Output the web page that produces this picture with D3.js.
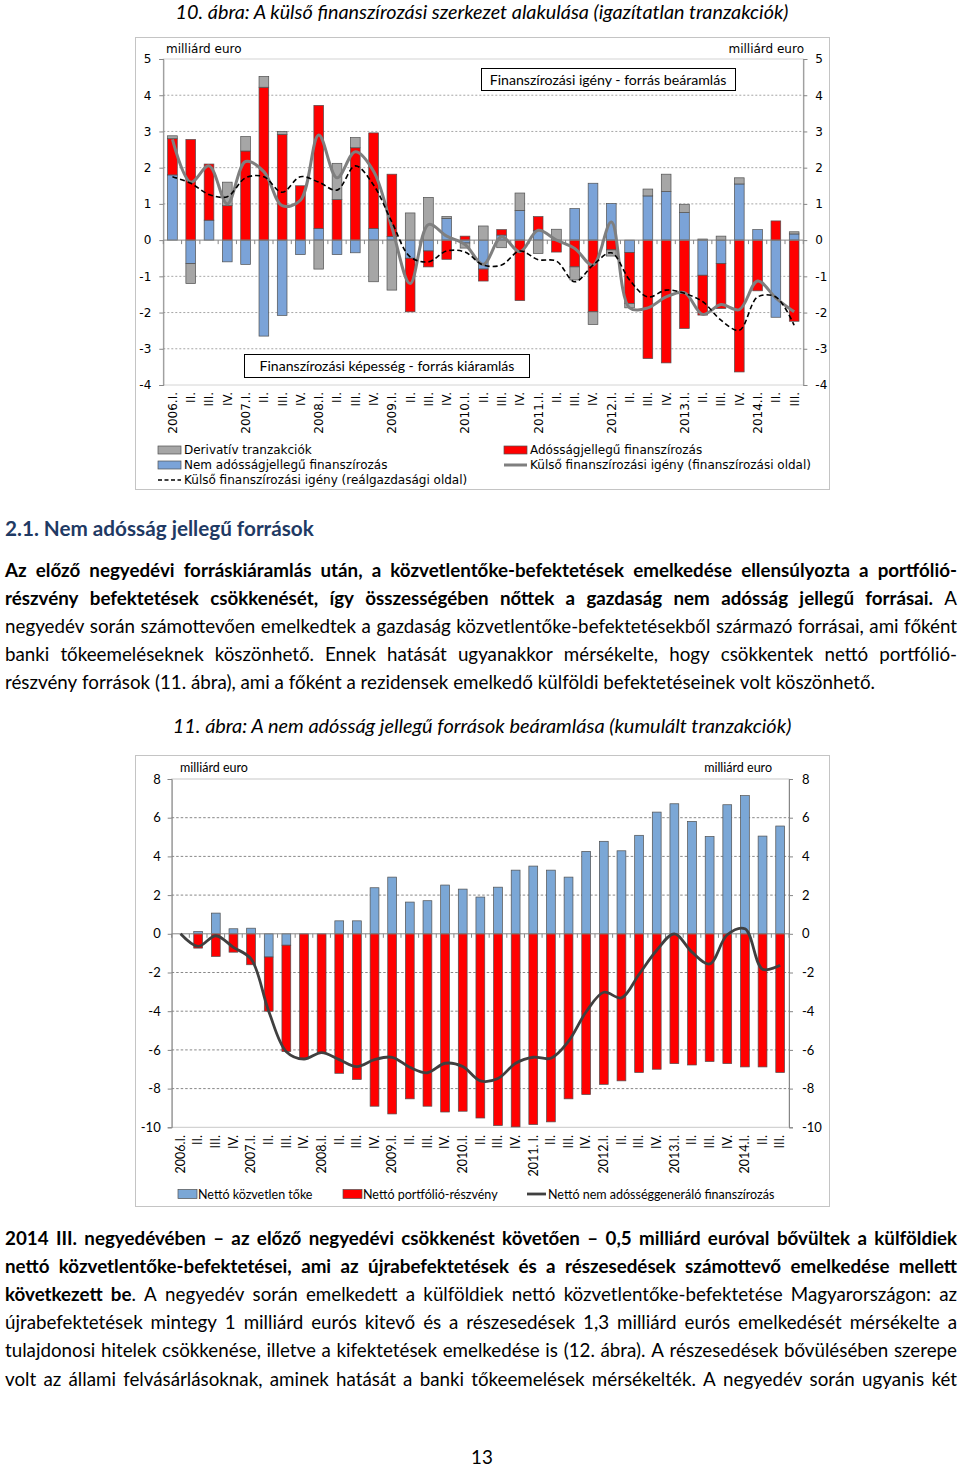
<!DOCTYPE html>
<html><head><meta charset="utf-8">
<script src="https://cdn.jsdelivr.net/npm/d3@7"></script>
<style>body{margin:0;background:#fff}svg{display:block}</style>
</head><body>
<svg id="page" width="960" height="1468"></svg>
<script>
// ---------- DATA ----------
const labels1 = ["2006.I.","II.","III.","IV.","2007.I.","II.","III.","IV.","2008.I.","II.","III.","IV.","2009.I.","II.","III.","IV.","2010.I.","II.","III.","IV.","2011.I.","II.","III.","IV.","2012.I.","II.","III.","IV.","2013.I.","II.","III.","IV.","2014.I.","II.","III."];
const labels2 = ["2006.I.","II.","III.","IV.","2007.I.","II.","III.","IV.","2008.I.","II.","III.","IV.","2009.I.","II.","III.","IV.","2010.I.","II.","III.","IV.","2011. I.","II.","III.","IV.","2012.I.","II.","III.","IV.","2013.I.","II.","III.","IV.","2014.I.","II.","III."];

// Chart 10 (milliárd euro)
const nonDebt = [1.8,-0.65,0.55,-0.6,-0.67,-2.65,-2.08,-0.4,0.32,-0.4,-0.35,0.32,0.1,-0.5,-0.3,0.6,-0.08,-0.8,0.14,0.82,0.27,0,0.87,1.57,1.01,-0.34,1.22,1.34,0.76,-0.97,-0.65,1.55,0.29,-2.13,0.17];
const debt = [1.0,2.78,1.55,0.95,2.46,4.22,2.92,1.5,3.4,1.12,2.55,2.64,1.72,-1.48,-0.44,-0.53,0.11,-0.33,0.15,-1.67,0.38,-0.33,-0.74,-1.98,-0.27,-1.41,-3.27,-3.39,-2.44,-1.1,-1.24,-3.64,-1.4,0.53,-2.24];
const deriv = [0.08,-0.55,0,0.65,0.4,0.3,0.08,0,-0.8,1.0,0.28,-1.15,-1.38,0.75,1.18,0.05,-0.14,0.39,-0.21,0.48,-0.37,0.3,-0.36,-0.35,-0.17,-0.12,0.19,0.48,0.23,0.03,0.11,0.17,0,0,0.06];
const needFin = [2.78,1.6,2.05,1.0,2.17,1.89,0.95,1.1,2.9,1.72,2.44,1.9,0.35,-1.2,0.43,0.11,-0.12,-0.67,0.09,-0.32,0.27,0.0,-0.23,-0.69,0.5,-1.87,-1.87,-1.57,-1.45,-2.05,-1.78,-1.92,-1.13,-1.6,-1.98];
const needReal = [1.75,1.57,1.26,1.2,1.72,1.75,1.32,1.75,1.6,1.38,2.05,1.52,0.5,-0.46,-0.6,-0.3,-0.33,-0.69,-0.69,-0.3,-0.54,-0.58,-1.15,-0.69,-0.35,-1.1,-1.57,-1.38,-1.47,-1.7,-2.21,-2.49,-1.57,-1.57,-2.35];
const ticks1 = [-4,-3,-2,-1,0,1,2,3,4,5];

// Chart 11 (kumulált, milliárd euro)
const fdi = [0,0.12,1.07,0.26,0.29,-1.2,-0.59,0,0,0.67,0.67,2.38,2.93,1.64,1.71,2.52,2.31,1.9,2.41,3.29,3.5,3.29,2.93,4.26,4.78,4.29,5.09,6.29,6.72,5.81,5.03,6.67,7.14,5.05,5.57];
const portfolio = [0,-0.74,-1.17,-0.95,-1.6,-2.8,-5.5,-6.47,-6.14,-7.21,-7.53,-8.91,-9.31,-8.53,-8.91,-9.21,-9.17,-9.52,-9.91,-9.98,-9.86,-9.72,-8.53,-8.31,-7.78,-7.6,-7.17,-7.0,-6.71,-6.78,-6.6,-6.71,-6.88,-6.88,-7.17];
const nonDebtTotal = [0,-0.65,-0.1,-0.7,-1.3,-4.0,-6.09,-6.47,-6.14,-6.5,-6.86,-6.5,-6.38,-6.9,-7.18,-6.69,-6.86,-7.6,-7.48,-6.69,-6.38,-6.43,-5.55,-4.03,-3.02,-3.31,-2.09,-0.85,0,-0.95,-1.56,-0.05,0.26,-1.83,-1.62];
const ticks2 = [-10,-8,-6,-4,-2,0,2,4,6,8];

const para1 = [
 "**Az előző negyedévi forráskiáramlás után, a közvetlentőke-befektetések emelkedése ellensúlyozta a portfólió-",
 "részvény befektetések csökkenését, így összességében nőttek a gazdaság nem adósság jellegű forrásai.** A",
 "negyedév során számottevően emelkedtek a gazdaság közvetlentőke-befektetésekből származó forrásai, ami főként",
 "banki tőkeemeléseknek köszönhető. Ennek hatását ugyanakkor mérsékelte, hogy csökkentek nettó portfólió-",
 "részvény források (11. ábra), ami a főként a rezidensek emelkedő külföldi befektetéseinek volt köszönhető."
];
const para2 = [
 "**2014 III. negyedévében – az előző negyedévi csökkenést követően – 0,5 milliárd euróval bővültek a külföldiek",
 "nettó közvetlentőke-befektetései, ami az újrabefektetések és a részesedések számottevő emelkedése mellett",
 "következett be**. A negyedév során emelkedett a külföldiek nettó közvetlentőke-befektetése Magyarországon: az",
 "újrabefektetések mintegy 1 milliárd eurós kitevő és a részesedések 1,3 milliárd eurós emelkedését mérsékelte a",
 "tulajdonosi hitelek csökkenése, illetve a kifektetések emelkedése is (12. ábra). A részesedések bővülésében szerepe",
 "volt az állami felvásárlásoknak, aminek hatását a banki tőkeemelések mérsékelték. A negyedév során ugyanis két"
];

// ---------- HELPERS ----------
const svg = d3.select('#page');
const F = "Lato, 'Open Sans', sans-serif";
const FV = "'DejaVu Sans', Verdana, sans-serif";
function fit(sel, w){
  const fs = parseFloat(sel.attr('font-size'));
  const cw = sel.node().getComputedTextLength();
  sel.attr('font-size', fs*w/cw);
  return sel;
}
function txt(g, x, y, s, fs, fam, anchor){
  return g.append('text').attr('x',x).attr('y',y).attr('font-size',fs)
    .attr('font-family',fam).attr('text-anchor',anchor||'start').attr('fill','#000').text(s);
}
function measure(str, fs, bold){
  const t = svg.append('text').attr('font-size',fs).attr('font-family',F).attr('font-weight',bold?'bold':'normal').text(str);
  const w = t.node().getComputedTextLength(); t.remove(); return w;
}
function paragraph(lines, x0, x1, y0, lh, fs, justifyLast){
  const state = {b:false};
  const spaceW = measure('a a',fs,false) - measure('aa',fs,false);
  lines.forEach((line, li) => {
    const y = y0 + li*lh;
    const words = line.split(' ').filter(s=>s.length).map(w => {
      const parts = w.split('**'); const spans = [];
      parts.forEach((p,i)=>{ if(i>0) state.b = !state.b; if(p) spans.push({t:p,b:state.b}); });
      return spans;
    });
    const els = words.map(spans => {
      const t = svg.append('text').attr('y',y).attr('font-size',fs).attr('font-family',F).attr('fill','#000');
      spans.forEach(s => t.append('tspan').attr('font-weight', s.b?'bold':'normal').text(s.t));
      return t;
    });
    const widths = els.map(e => e.node().getComputedTextLength());
    const total = d3.sum(widths);
    const last = (li === lines.length-1) && !justifyLast;
    const gap = last ? spaceW : (x1 - x0 - total)/(words.length-1);
    let x = x0;
    els.forEach((e,i)=>{ e.attr('x',x); x += widths[i] + gap; });
  });
}

// ---------- TEXT ----------
fit(txt(svg, 482, 18.5, "10. ábra: A külső finanszírozási szerkezet alakulása (igazítatlan tranzakciók)", 18, F, 'middle').attr('font-style','italic'), 613);
fit(txt(svg, 5, 536, "2.1. Nem adósság jellegű források", 20, F).attr('font-weight','bold').attr('fill','#1F3A64'), 309);
// paragraph font size derived from the unjustified last line of para 1
const pfs = 17 * 870 / measure(para1[4], 17, false);
paragraph(para1, 5, 957, 577, 28.1, pfs, false);
fit(txt(svg, 482, 733, "11. ábra: A nem adósság jellegű források beáramlása (kumulált tranzakciók)", 18, F, 'middle').attr('font-style','italic'), 619);
paragraph(para2, 5, 957, 1245, 28.1, pfs, true);
txt(svg, 482, 1464, "13", pfs, F, 'middle');

// ---------- CHART 10 ----------
(function(){
  const g = svg.append('g');
  const L=163.3, R=803.3, T=59, B=385;
  g.append('rect').attr('x',135.5).attr('y',37.5).attr('width',694).attr('height',452).attr('fill','#fff').attr('stroke','#c4c4c4');
  const x = d3.scaleBand().domain(d3.range(35)).range([L,R]).paddingInner(0.47).paddingOuter(0.235);
  const y = d3.scaleLinear().domain([-4,5]).range([B,T]);
  g.append('rect').attr('x',L).attr('y',T).attr('width',R-L).attr('height',B-T).attr('fill','none').attr('stroke','#d4d4d4');
  ticks1.filter(v => v!==0 && v!==5 && v!==-4).forEach(v => {
    g.append('line').attr('x1',L).attr('x2',R).attr('y1',y(v)).attr('y2',y(v))
      .attr('stroke','#a6a6a6').attr('stroke-dasharray','2,2').attr('stroke-width',1);
  });
  const axL = g.append('g').attr('transform',`translate(${L},0)`)
    .call(d3.axisLeft(y).tickValues(ticks1).tickSize(4).tickPadding(8).tickFormat(d=>String(d)));
  const axR = g.append('g').attr('transform',`translate(${R},0)`)
    .call(d3.axisRight(y).tickValues(ticks1).tickSize(4).tickPadding(8).tickFormat(d=>String(d)));
  [axL,axR].forEach(a => {
    a.select('.domain').attr('stroke','#868686');
    a.selectAll('line').attr('stroke','#868686');
    a.selectAll('text').attr('font-family',FV).attr('font-size',12).attr('fill','#000');
  });
  // bars
  const rows = d3.range(35).map(i => ({i, nd: nonDebt[i], d: debt[i], dv: deriv[i]}));
  const series = d3.stack().keys(['nd','d','dv']).offset(d3.stackOffsetDiverging)(rows);
  const col = {nd:'#7BA3D8', d:'#FF0000', dv:'#A6A6A6'};
  series.forEach(s => {
    g.append('g').selectAll('rect').data(s).join('rect')
      .attr('x', d => x(d.data.i)).attr('width', x.bandwidth())
      .attr('y', d => y(Math.max(d[0],d[1]))).attr('height', d => Math.abs(y(d[0])-y(d[1])))
      .attr('fill', col[s.key]).attr('stroke','#505050').attr('stroke-width',0.7);
  });
  // zero line with category ticks
  g.append('line').attr('x1',L).attr('x2',R).attr('y1',y(0)).attr('y2',y(0)).attr('stroke','#868686');
  d3.range(36).forEach(k => {
    const xx = L + k*x.step();
    g.append('line').attr('x1',xx).attr('x2',xx).attr('y1',y(0)).attr('y2',y(0)+4).attr('stroke','#868686');
  });
  const cx = i => x(i) + x.bandwidth()/2;
  g.append('path').datum(needFin).attr('fill','none').attr('stroke','#7F7F7F').attr('stroke-width',3)
    .attr('stroke-linejoin','round')
    .attr('d', d3.line().x((d,i)=>cx(i)).y(d=>y(d)).curve(d3.curveCatmullRom.alpha(0.5)));
  g.append('path').datum(needReal).attr('fill','none').attr('stroke','#000').attr('stroke-width',1.6)
    .attr('stroke-dasharray','5,3')
    .attr('d', d3.line().x((d,i)=>cx(i)).y(d=>y(d)).curve(d3.curveCatmullRom.alpha(0.5)));
  // axis labels
  txt(g, 166, 53, "milliárd euro", 12, FV);
  txt(g, 804, 53, "milliárd euro", 12, FV, 'end');
  labels1.forEach((s,i) => {
    g.append('text').attr('transform',`translate(${cx(i)+4.4},392) rotate(-90)`)
      .attr('text-anchor','end').attr('font-family',FV).attr('font-size',12).attr('fill','#000').text(s);
  });
  // annotation boxes
  g.append('rect').attr('x',481.5).attr('y',68.5).attr('width',254).attr('height',22).attr('fill','#fff').attr('stroke','#000');
  fit(txt(g, 608, 84.5, "Finanszírozási igény - forrás beáramlás", 14, F, 'middle'), 237);
  g.append('rect').attr('x',244.5).attr('y',354.5).attr('width',285).attr('height',23).attr('fill','#fff').attr('stroke','#000');
  fit(txt(g, 387, 371, "Finanszírozási képesség - forrás kiáramlás", 14, F, 'middle'), 255);
  // legend
  g.append('rect').attr('x',158).attr('y',446).attr('width',23).attr('height',8).attr('fill','#A6A6A6').attr('stroke','#505050').attr('stroke-width',0.7);
  txt(g, 184, 454, "Derivatív tranzakciók", 12, FV);
  g.append('rect').attr('x',158).attr('y',461).attr('width',23).attr('height',8).attr('fill','#7BA3D8').attr('stroke','#505050').attr('stroke-width',0.7);
  txt(g, 184, 469, "Nem adósságjellegű finanszírozás", 12, FV);
  g.append('line').attr('x1',158).attr('x2',181).attr('y1',480).attr('y2',480).attr('stroke','#000').attr('stroke-width',1.6).attr('stroke-dasharray','4,2.5');
  txt(g, 184, 484, "Külső finanszírozási igény (reálgazdasági oldal)", 12, FV);
  g.append('rect').attr('x',504).attr('y',446).attr('width',23).attr('height',8).attr('fill','#FF0000').attr('stroke','#505050').attr('stroke-width',0.7);
  txt(g, 530, 454, "Adósságjellegű finanszírozás", 12, FV);
  g.append('line').attr('x1',504).attr('x2',527).attr('y1',465).attr('y2',465).attr('stroke','#7F7F7F').attr('stroke-width',3);
  txt(g, 530, 469, "Külső finanszírozási igény (finanszírozási oldal)", 12, FV);
})();

// ---------- CHART 11 ----------
(function(){
  const g = svg.append('g');
  const L=171.7, R=789, T=779, B=1127.3;
  g.append('rect').attr('x',135.5).attr('y',755.5).attr('width',694).attr('height',451).attr('fill','#fff').attr('stroke','#c4c4c4');
  const x = d3.scaleBand().domain(d3.range(35)).range([L,R]).paddingInner(0.5).paddingOuter(0.25);
  const y = d3.scaleLinear().domain([-10,8]).range([B,T]);
  g.append('rect').attr('x',L).attr('y',T).attr('width',R-L).attr('height',B-T).attr('fill','none').attr('stroke','#c8c8c8');
  ticks2.filter(v => v!==0 && v!==8 && v!==-10).forEach(v => {
    g.append('line').attr('x1',L).attr('x2',R).attr('y1',y(v)).attr('y2',y(v))
      .attr('stroke','#7a7a7a').attr('stroke-dasharray','2.5,2').attr('stroke-width',0.9);
  });
  const axL = g.append('g').attr('transform',`translate(${L},0)`)
    .call(d3.axisLeft(y).tickValues(ticks2).tickSize(4).tickPadding(7).tickFormat(d=>String(d)));
  const axR = g.append('g').attr('transform',`translate(${R},0)`)
    .call(d3.axisRight(y).tickValues(ticks2).tickSize(4).tickPadding(9).tickFormat(d=>String(d)));
  [axL,axR].forEach(a => {
    a.select('.domain').attr('stroke','#868686');
    a.selectAll('line').attr('stroke','#868686');
    a.selectAll('text').attr('font-family',F).attr('font-size',13).attr('fill','#000');
  });
  const rows = d3.range(35).map(i => ({i, f: fdi[i], p: portfolio[i]}));
  const series = d3.stack().keys(['f','p']).offset(d3.stackOffsetDiverging)(rows);
  const col = {f:'#7BA7D6', p:'#FF0000'};
  series.forEach(s => {
    g.append('g').selectAll('rect').data(s.filter(d => d[1]!==d[0])).join('rect')
      .attr('x', d => x(d.data.i)).attr('width', x.bandwidth())
      .attr('y', d => y(Math.max(d[0],d[1]))).attr('height', d => Math.abs(y(d[0])-y(d[1])))
      .attr('fill', col[s.key]).attr('stroke','#505050').attr('stroke-width',0.7);
  });
  g.append('line').attr('x1',L).attr('x2',R).attr('y1',y(0)).attr('y2',y(0)).attr('stroke','#868686');
  d3.range(36).forEach(k => {
    const xx = L + k*x.step();
    g.append('line').attr('x1',xx).attr('x2',xx).attr('y1',y(0)).attr('y2',y(0)+4).attr('stroke','#868686');
  });
  const cx = i => x(i) + x.bandwidth()/2;
  g.append('path').datum(nonDebtTotal).attr('fill','none').attr('stroke','#404040').attr('stroke-width',2.8)
    .attr('stroke-linejoin','round')
    .attr('d', d3.line().x((d,i)=>cx(i)).y(d=>y(d)).curve(d3.curveCatmullRom.alpha(0.5)));
  txt(g, 180, 772, "milliárd euro", 12.5, F);
  txt(g, 772, 772, "milliárd euro", 12.5, F, 'end');
  labels2.forEach((s,i) => {
    g.append('text').attr('transform',`translate(${cx(i)+4.3},1135) rotate(-90)`)
      .attr('text-anchor','end').attr('font-family',F).attr('font-size',12.5).attr('fill','#000').text(s);
  });
  g.append('rect').attr('x',178).attr('y',1189.5).attr('width',19).attr('height',9).attr('fill','#7BA7D6').attr('stroke','#505050').attr('stroke-width',0.7);
  txt(g, 198, 1199, "Nettó közvetlen tőke", 12.5, F);
  g.append('rect').attr('x',343).attr('y',1189.5).attr('width',19).attr('height',9).attr('fill','#FF0000').attr('stroke','#505050').attr('stroke-width',0.7);
  txt(g, 363, 1199, "Nettó portfólió-részvény", 12.5, F);
  g.append('line').attr('x1',527).attr('x2',546).attr('y1',1194).attr('y2',1194).attr('stroke','#404040').attr('stroke-width',2.8);
  txt(g, 548, 1199, "Nettó nem adósséggeneráló finanszírozás", 12.5, F);
})();
</script>
</body></html>
